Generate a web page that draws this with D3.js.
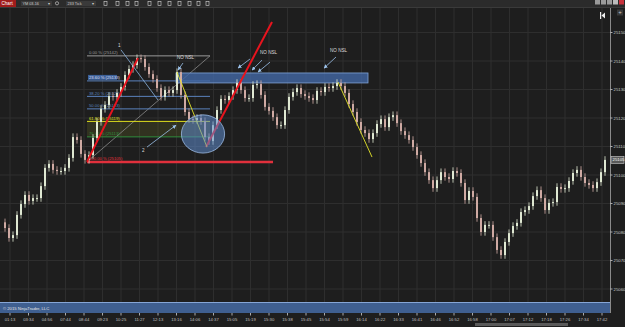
<!DOCTYPE html>
<html><head><meta charset="utf-8">
<script src="https://cdn.jsdelivr.net/npm/d3@7"></script>
<style>
html,body{margin:0;padding:0;background:#1e1e1e;overflow:hidden;}
svg{display:block;font-family:"Liberation Sans",Arial,sans-serif;}
</style></head><body>
<div id="chart"></div>
<script>
// closes, one per bar (233 tick bars)
var closes=[25081.4,25077.9,25078.9,25086.0,25089.8,25093.0,25090.9,25091.9,25091.9,25096.1,
 25102.5,25103.9,25101.8,25101.4,25101.4,25102.5,25106.0,25113.3,25112.3,25107.4,
 25105.3,25107.0,25113.0,25118.6,25123.2,25124.6,25127.7,25127.4,25128.8,25130.9,
 25135.1,25137.2,25138.6,25141.0,25140.7,25137.9,25135.4,25133.7,25130.5,25127.4,
 25129.8,25128.8,25129.8,25136.1,25128.1,25122.1,25119.6,25119.3,25120.0,25118.9,
 25113.3,25111.9,25117.5,25122.8,25126.7,25126.3,25127.7,25129.8,25132.3,25129.8,
 25127.0,25127.0,25131.6,25131.9,25128.1,25123.9,25122.5,25120.3,25117.5,25117.5,
 25122.8,25127.4,25129.1,25130.5,25128.4,25127.7,25127.0,25126.3,25129.5,25129.1,
 25130.9,25130.5,25131.2,25132.3,25131.2,25128.8,25124.9,25122.1,25118.6,25115.8,
 25114.7,25112.6,25114.7,25117.9,25119.6,25116.8,25120.3,25121.0,25118.2,25115.4,
 25114.0,25112.3,25109.8,25107.0,25104.2,25101.0,25098.2,25095.4,25098.2,25101.0,
 25099.3,25098.6,25101.4,25100.7,25097.2,25091.2,25094.4,25092.3,25084.9,25080.0,
 25082.5,25082.5,25078.2,25073.7,25071.9,25076.5,25079.6,25082.1,25083.2,25087.0,
 25087.7,25089.1,25092.6,25094.7,25091.9,25087.7,25090.2,25090.5,25095.8,25095.1,
 25095.4,25097.9,25100.7,25101.8,25099.3,25097.2,25096.5,25095.4,25097.5,25101.0,
 25105.3];
var priceTicks=[25150,25140,25130,25120,25110,25100,25090,25080,25070,25060];
var timeLabels=["01:13","03:34","04:56","07:44","08:44","09:23","10:25","11:27","12:13","13:16",
 "14:06","14:37","15:05","15:19","15:30","15:38","15:45","15:54","15:59","16:14","16:22",
 "16:33","16:41","16:46","16:52","16:58","17:00","17:07","17:12","17:18","17:26","17:34","17:42"];
var fibLevels=[0,23.6,38.2,50,61.8,76.4,100];
var fibColors=["#9a9a9a","#5b82bd","#5b82bd","#5b82bd","#e2e21e","#2f8c3c","#e0303c"];
var fibHigh=25141.8, fibLow=25104.6, fibFrom=20.5, fibTo=51.25;

var W=625,H=327;
var svg=d3.select("#chart").append("svg").attr("width",W).attr("height",H);
var x=d3.scaleLinear().domain([0,closes.length-1]).range([5,605]);
var y=d3.scaleLinear().domain([25060,25150]).range([289,32.5]);

// background + grid
svg.append("rect").attr("width",W).attr("height",H).attr("fill","#1e1e1e");
var tickIdx=timeLabels.map(function(d,i){return 1.25+i*4.625;});
svg.append("g").selectAll("line").data(tickIdx).enter().append("line")
  .attr("x1",function(d){return x(d);}).attr("x2",function(d){return x(d);})
  .attr("y1",8).attr("y2",302).attr("stroke","#2e2e2e").attr("stroke-width",1);
svg.append("g").selectAll("line").data(priceTicks).enter().append("line")
  .attr("x1",0).attr("x2",610).attr("y1",function(d){return y(d);}).attr("y2",function(d){return y(d);})
  .attr("stroke","#2e2e2e").attr("stroke-width",1);

var plot=svg.append("g");

// fib retracement
var fibY=function(l){return fibHigh-(fibHigh-fibLow)*l/100;};
plot.append("rect").attr("x",x(fibFrom)).attr("width",x(fibTo)-x(fibFrom))
  .attr("y",y(fibY(61.8))).attr("height",y(fibY(76.4))-y(fibY(61.8)))
  .attr("fill","rgba(120,125,40,0.22)");
plot.append("line").attr("x1",x(fibFrom)).attr("y1",y(fibLow)).attr("x2",x(fibTo)).attr("y2",y(fibHigh))
  .attr("stroke","#8a8a8a").attr("stroke-width",0.8);
fibLevels.forEach(function(l,i){
  var v=fibY(l);
  plot.append("line").attr("x1",x(fibFrom)).attr("x2",x(l===100?67:fibTo))
    .attr("y1",y(v)).attr("y2",y(v)).attr("stroke",fibColors[i]).attr("stroke-width",l===100?2.5:1);
  var t=l.toFixed(2)+" % ("+Math.round(v)+")";
  if(l===23.6) plot.append("rect").attr("x",x(fibFrom)+1).attr("y",y(v)-6).attr("width",29).attr("height",5).attr("fill","#3c6098");
  plot.append("text").attr("x",x(fibFrom)+2).attr("y",y(v)-1.5).text(t)
    .attr("font-size",4.2).attr("fill",l===23.6?"#dde":fibColors[i]);
});

// resistance band
var band=[42.75,90.75,25132.3,25135.8];
plot.append("rect").attr("x",x(band[0])).attr("width",x(band[1])-x(band[0]))
  .attr("y",y(band[3])).attr("height",y(band[2])-y(band[3]))
  .attr("fill","rgba(66,104,165,0.8)").attr("stroke","#7fa3d6").attr("stroke-width",0.8);

// candles
var cg=plot.append("g");
closes.forEach(function(c,i){
  var o=i>0?closes[i-1]:closes[0]+2;
  var up=c>=o, hi=Math.max(o,c), lo=Math.min(o,c);
  var col=up?"#dfe8d2":"#cfaaa3";
  cg.append("line").attr("x1",x(i)).attr("x2",x(i)).attr("y1",y(hi+1.3)).attr("y2",y(lo-1.3))
    .attr("stroke",col).attr("stroke-width",0.8);
  cg.append("rect").attr("x",x(i)-1).attr("width",2).attr("y",y(hi))
    .attr("height",Math.max(1,y(lo)-y(hi))).attr("fill",col);
});

// drawings
var defs=svg.append("defs");
defs.append("marker").attr("id","ah").attr("viewBox","0 0 10 10").attr("refX",9).attr("refY",5)
  .attr("markerWidth",5).attr("markerHeight",5).attr("orient","auto")
  .append("path").attr("d","M0,0L10,5L0,10z").attr("fill","#9cc2ea");
function seg(a,col,w,arrow){
  var l=plot.append("line").attr("x1",x(a[0])).attr("y1",y(a[1])).attr("x2",x(a[2])).attr("y2",y(a[3]))
   .attr("stroke",col).attr("stroke-width",w);
  if(arrow) l.attr("marker-end","url(#ah)");
}
seg([20.5,25104.6,33.25,25141.0],"#e8141e",2,false);
seg([50.25,25109.8,66.75,25153.7],"#e8141e",2,false);
seg([43,25136.1,50.5,25109.8],"#e6e62a",0.9,false);
seg([83.25,25132.6,91.75,25106.3],"#e6e62a",0.9,false);
seg([29,25143.9,38.25,25126.3],"#8ab4e0",0.8,false);
seg([35.5,25109.8,42.75,25117.5],"#9cc2ea",0.8,true);
var arrows=[[44.5,25139.3,43.25,25136.8],[61.25,25140.7,58.25,25137.5],[64.25,25140.3,61.75,25136.8],
 [66.25,25139.6,63.25,25136.1],[82.75,25141.4,79.75,25137.5]];
arrows.forEach(function(a){seg(a,"#9cc2ea",0.8,true);});
plot.append("ellipse").attr("cx",x(49.5)).attr("cy",y(25114.4)).attr("rx",x(5.4)-x(0)).attr("ry",y(25114.4-6.7)-y(25114.4))
  .attr("fill","rgba(95,140,205,0.55)").attr("stroke","#9cbbe6").attr("stroke-width",0.8);
var notes=[[43,25140.7,"NO NSL"],[63.75,25142.5,"NO NSL"],[81.25,25143.2,"NO NSL"],[28.25,25144.9,"1"],[34.25,25108.1,"2"]];
notes.forEach(function(n){
  plot.append("text").attr("x",x(n[0])).attr("y",y(n[1])).text(n[2]).attr("font-size",4.6).attr("fill","#dcdcdc");
});

// price axis
svg.append("line").attr("x1",610.5).attr("x2",610.5).attr("y1",8).attr("y2",313).attr("stroke","#8a8a8a").attr("stroke-width",1);
var pa=svg.append("g");
priceTicks.forEach(function(p){
  pa.append("line").attr("x1",610).attr("x2",612.5).attr("y1",y(p)).attr("y2",y(p)).attr("stroke","#aaa");
  pa.append("text").attr("x",613.5).attr("y",y(p)+1.6).text(p).attr("font-size",4.3).attr("fill","#c8c8c8");
});
var last=closes[closes.length-1];
pa.append("rect").attr("x",611).attr("y",y(last)-3.5).attr("width",13).attr("height",7).attr("fill","#5a5a5a").attr("stroke","#cfcfcf").attr("stroke-width",0.6);
pa.append("text").attr("x",612.5).attr("y",y(last)+1.6).text(Math.round(last)).attr("font-size",4.3).attr("fill","#fff");

// bottom panel + time axis
svg.append("rect").attr("x",0).attr("y",302).attr("width",610).attr("height",11).attr("fill","#3f5f90");
svg.append("line").attr("x1",0).attr("x2",610).attr("y1",302.5).attr("y2",302.5).attr("stroke","#86a6d6");
svg.append("text").attr("x",3).attr("y",310).text("© 2015 NinjaTrader, LLC").attr("font-size",4.2).attr("fill","#e6e6e6");
var ta=svg.append("g");
tickIdx.forEach(function(t,i){
  ta.append("line").attr("x1",x(t)).attr("x2",x(t)).attr("y1",313).attr("y2",315.5).attr("stroke","#aaa");
  ta.append("text").attr("x",x(t)).attr("y",320.5).attr("text-anchor","middle").text(timeLabels[i]).attr("font-size",4.2).attr("fill","#c0c0c0");
});
svg.append("rect").attr("x",475).attr("y",323).attr("width",93).attr("height",3).attr("fill","#5a5a5a");

// toolbar
svg.append("rect").attr("width",W).attr("height",7.5).attr("fill","#2b2b2b");
svg.append("line").attr("x1",0).attr("x2",W).attr("y1",7.5).attr("y2",7.5).attr("stroke","#3a3a3a");
svg.append("rect").attr("x",0).attr("y",0).attr("width",16).attr("height",7).attr("fill","#a01c1c");
svg.append("text").attr("x",1.5).attr("y",5.3).text("Chart").attr("font-size",4.6).attr("fill","#fff");
[[21,31,"YM 03-16"],[66,30,"233 Tick"]].forEach(function(b){
  svg.append("rect").attr("x",b[0]).attr("y",1).attr("width",b[1]).attr("height",5).attr("fill","#3a3a3a");
  svg.append("text").attr("x",b[0]+1.5).attr("y",4.9).text(b[2]).attr("font-size",3.8).attr("fill","#cfcfcf");
  svg.append("text").attr("x",b[0]+b[1]-4).attr("y",5).text("▾").attr("font-size",4).attr("fill","#cfcfcf");
});
svg.append("circle").attr("cx",57).attr("cy",3.3).attr("r",1.6).attr("fill","none").attr("stroke","#ddd").attr("stroke-width",0.6);
[104,116,126,135,148,158,168,178,188,197,206].forEach(function(ix){
  svg.append("rect").attr("x",ix).attr("y",1.5).attr("width",3).attr("height",4).attr("fill","none").attr("stroke","#d6d6d6").attr("stroke-width",0.6);
});
[[595,"#9a9a9a"],[601,"#9a9a9a"],[607,"#9a9a9a"],[613,"#bbb"],[619,"#c8323c"]].forEach(function(b){
  svg.append("rect").attr("x",b[0]).attr("y",0).attr("width",5).attr("height",4.5).attr("fill",b[1]);
});
svg.append("rect").attr("x",617).attr("y",9.5).attr("width",6).attr("height",6).attr("fill","#3a3a3a");
svg.append("text").attr("x",618.3).attr("y",14.4).text("+").attr("font-size",6).attr("fill","#ccc");
svg.append("rect").attr("x",600).attr("y",12).attr("width",1.2).attr("height",7).attr("fill","#eee");
svg.append("path").attr("d","M601.5,15.5L605,12.5L605,18.5z").attr("fill","#eee");
</script>
</body></html>
